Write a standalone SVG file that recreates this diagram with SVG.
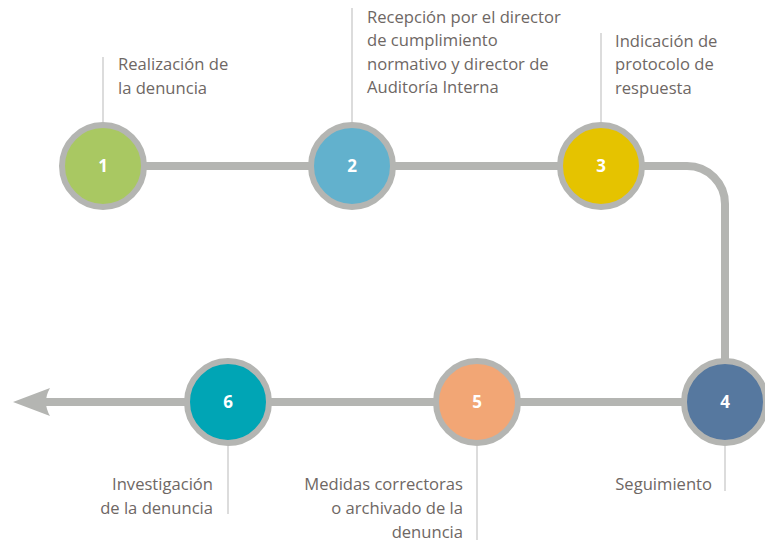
<svg xmlns="http://www.w3.org/2000/svg" width="765" height="545" viewBox="0 0 765 545">
<style>
.lbl{font-family:"Open Sans","Noto Sans",sans-serif;font-size:16.6px;fill:#6e6764}
.end{text-anchor:end}
.num{font-family:"Open Sans","Noto Sans",sans-serif;font-size:17px;font-weight:bold;fill:#ffffff;text-anchor:middle}
.ring{stroke:#b4b5b2;stroke-width:6}
.tick{stroke:#dcdcdc;stroke-width:2}
</style>
<rect width="765" height="545" fill="#ffffff"/>
<g id="connectors">
<path d="M103 166 H687 A38 38 0 0 1 725 204 V402 H44" fill="none" stroke="#b4b5b2" stroke-width="8"/>
<path d="M13 402 L50 388 Q42 402 50 416 Z" fill="#b4b5b2"/>
<line class="tick" x1="103" y1="57" x2="103" y2="122"/>
<line class="tick" x1="352" y1="8" x2="352" y2="122"/>
<line class="tick" x1="601" y1="33" x2="601" y2="122"/>
<line class="tick" x1="725" y1="446" x2="725" y2="491"/>
<line class="tick" x1="477" y1="446" x2="477" y2="540"/>
<line class="tick" x1="228" y1="446" x2="228" y2="514"/>
</g>
<g id="node1">
<circle class="ring" cx="103" cy="166" r="41" fill="#a9c862"/>
<text class="num" x="103" y="172">1</text>
<text class="lbl" x="118" y="70">Realización de</text>
<text class="lbl" x="118" y="93.5">la denuncia</text>
</g>
<g id="node2">
<circle class="ring" cx="352" cy="166" r="41" fill="#62b1cd"/>
<text class="num" x="352" y="172">2</text>
<text class="lbl" x="367" y="22.5">Recepción por el director</text>
<text class="lbl" x="367" y="46">de cumplimiento</text>
<text class="lbl" x="367" y="69.5">normativo y director de</text>
<text class="lbl" x="367" y="93">Auditoría Interna</text>
</g>
<g id="node3">
<circle class="ring" cx="601" cy="166" r="41" fill="#e5c300"/>
<text class="num" x="601" y="172">3</text>
<text class="lbl" x="615" y="46.5">Indicación de</text>
<text class="lbl" x="615" y="70">protocolo de</text>
<text class="lbl" x="615" y="93.5">respuesta</text>
</g>
<g id="node4">
<circle class="ring" cx="725" cy="402" r="41" fill="#56789f"/>
<text class="num" x="725" y="408">4</text>
<text class="lbl end" x="712" y="490">Seguimiento</text>
</g>
<g id="node5">
<circle class="ring" cx="477" cy="402" r="41" fill="#f2a675"/>
<text class="num" x="477" y="408">5</text>
<text class="lbl end" x="463" y="490">Medidas correctoras</text>
<text class="lbl end" x="463" y="514">o archivado de la</text>
<text class="lbl end" x="463" y="538">denuncia</text>
</g>
<g id="node6">
<circle class="ring" cx="228" cy="402" r="41" fill="#00a5b5"/>
<text class="num" x="228" y="408">6</text>
<text class="lbl end" x="213" y="490">Investigación</text>
<text class="lbl end" x="213" y="514">de la denuncia</text>
</g>
</svg>
